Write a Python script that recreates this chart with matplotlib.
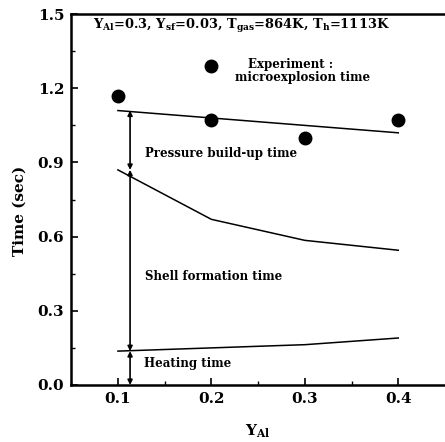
import matplotlib.pyplot as plt

# experiment: microexplosion time
exp_x = [0.1, 0.2, 0.2, 0.3, 0.4]
exp_t = [1.17, 1.29, 1.07, 1.00, 1.07]

# model curves
y_al = [0.1, 0.2, 0.3, 0.4]
t_explosion = [1.11, 1.08, 1.05, 1.02]
t_shell = [0.87, 0.67, 0.585, 0.545]
t_heating = [0.137, 0.15, 0.163, 0.19]

x_arrow = 0.113

plt.rcParams['font.family'] = ['DejaVu Serif']
plt.rcParams['font.weight'] = 'bold'
plt.rcParams['axes.labelweight'] = 'bold'
plt.rcParams['mathtext.fontset'] = 'custom'
plt.rcParams['mathtext.rm'] = 'DejaVu Serif:bold'
plt.rcParams['mathtext.it'] = 'DejaVu Serif:bold'
plt.rcParams['mathtext.bf'] = 'DejaVu Serif:bold'

fig = plt.figure(figsize=(4.45, 4.42), dpi=100)
ax = fig.add_axes([0.16, 0.129, 0.84, 0.839])

ax.plot(exp_x, exp_t, 'o', color='black', markersize=9)
ax.plot(y_al, t_explosion, color='black', lw=1.1)
ax.plot(y_al, t_shell, color='black', lw=1.1)
ax.plot(y_al, t_heating, color='black', lw=1.1)

# double arrows between the curves
levels = [t_explosion[0], t_shell[0], t_heating[0], 0.0]
for top, bot in zip(levels[:-1], levels[1:]):
    ax.annotate('', xy=(x_arrow, bot), xytext=(x_arrow, top),
                arrowprops=dict(arrowstyle='<|-|>', color='black', lw=1.2,
                                mutation_scale=7, shrinkA=0, shrinkB=0))

ax.text(0.232, 1.452, r'$\mathrm{Y_{Al}}$=0.3, $\mathrm{Y_{sf}}$=0.03, '
        r'$\mathrm{T_{gas}}$=864K, $\mathrm{T_h}$=1113K',
        ha='center', va='center', fontsize=9.4)
ax.text(0.285, 1.295, 'Experiment :', ha='center', va='center', fontsize=8.5)
ax.text(0.298, 1.245, 'microexplosion time', ha='center', va='center', fontsize=8.5)
ax.text(0.129, 0.935, 'Pressure build-up time', ha='left', va='center', fontsize=8.5)
ax.text(0.129, 0.44, 'Shell formation time', ha='left', va='center', fontsize=8.5)
ax.text(0.128, 0.085, 'Heating time', ha='left', va='center', fontsize=8.5)

ax.set_xlim(0.05, 0.45)
ax.set_ylim(0.0, 1.5)
ax.set_xticks([0.1, 0.2, 0.3, 0.4])
ax.set_xticks([0.05, 0.15, 0.25, 0.35], minor=True)
ax.set_yticks([0.0, 0.3, 0.6, 0.9, 1.2, 1.5])
ax.set_yticks([0.15, 0.45, 0.75, 1.05, 1.35], minor=True)
ax.set_yticklabels(['0.0', '0.3', '0.6', '0.9', '1.2', '1.5'])
ax.tick_params(direction='in', length=5, width=1.2, labelsize=11, pad=5)
ax.tick_params(which='minor', direction='in', length=3, width=1.0)
ax.spines['right'].set_visible(False)
for s in ['left', 'bottom', 'top']:
    ax.spines[s].set_linewidth(1.8)

ax.set_ylabel('Time (sec)', fontsize=11, labelpad=8)
ax.yaxis.set_label_coords(-0.12, 0.47)
ax.set_xlabel(r'$\mathrm{Y_{Al}}$', fontsize=11, labelpad=12)

fig.savefig('out.png', dpi=100)
